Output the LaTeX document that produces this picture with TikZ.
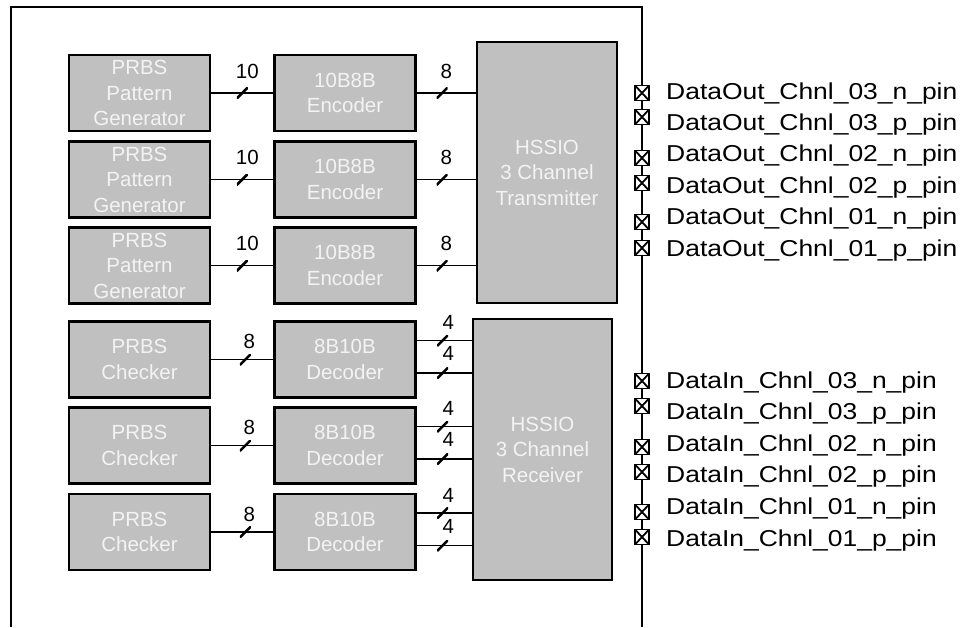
\documentclass[tikz,border=0pt]{standalone}
\usepackage{fontspec}
\setmainfont{Liberation Sans}
\newfontfamily\pinfont[FakeStretch=1.15]{Liberation Sans}
\usetikzlibrary{calc}
\definecolor{blockgray}{RGB}{192,192,192}
\definecolor{blocktext}{RGB}{243,243,243}
\tikzset{
  block/.style={draw, line width=2.6pt, fill=blockgray, text=blocktext, align=center,
    inner sep=0pt, minimum width=141pt, minimum height=76pt,
    font=\fontsize{20.5}{25.5}\selectfont},
  bigblock/.style={block, minimum width=140pt, minimum height=261pt},
  wire/.style={line width=1.2pt},
  busmark/.style={inner sep=0pt, minimum size=11pt,
    path picture={\draw[line width=2.6pt] (path picture bounding box.south west) -- (path picture bounding box.north east);}},
  numlbl/.style={inner sep=0pt, font=\fontsize{20.5}{20.5}\selectfont},
  pinbox/.style={draw, line width=1.8pt, fill=white, inner sep=0pt, minimum width=14pt, minimum height=15pt,
    path picture={\draw[line width=1.8pt] (path picture bounding box.south west) -- (path picture bounding box.north east)
      (path picture bounding box.north west) -- (path picture bounding box.south east);}},
  pintext/.style={anchor=base west, inner sep=0pt, font=\pinfont\fontsize{23}{23}\selectfont}
}
\begin{document}
\begin{tikzpicture}[x=1pt,y=-1pt]
    \useasboundingbox (0,0) rectangle (963,627);
    \draw[line width=2.2pt](11,627)|-(642,7)--(642,627);

    % transmit side
    \node[bigblock] (tx) at (547,172.5) {HSSIO\\3 Channel\\Transmitter};
    \foreach \y [count=\i] in {93,179.5,265.5}{
      \node[block] (gen\i) at (139.5,\y) {PRBS\\Pattern\\Generator};
      \node[block] (enc\i) at (345,\y) {10B8B\\Encoder};
      \draw[wire](gen\i)--node[busmark]{} node[numlbl,midway,xshift=5pt,yshift=22pt]{10}(enc\i);
      \draw[wire](enc\i.east)--node[busmark,pos=.43]{} node[numlbl,midway,yshift=22pt]{8}(enc\i.east-|tx.west);
    }

    % receive side
    \node[bigblock, minimum width=139pt] (rx) at (542.5,449.5) {HSSIO\\3 Channel\\Receiver};
    \foreach \y [count=\i] in {359.5,445.5,532}{
      \node[block] (chk\i) at (139.5,\y) {PRBS\\Checker};
      \node[block] (dec\i) at (345,\y) {8B10B\\Decoder};
      \draw[wire](chk\i)--node[busmark,pos=.55]{} node[numlbl,midway,xshift=7pt,yshift=18pt]{8}(dec\i);
      \coordinate (du\i) at ($(dec\i.east)+(0,-19)$);
      \coordinate (dl\i) at ($(dec\i.east)+(0,13.5)$);
      \draw[wire](du\i)--node[busmark,pos=.47]{} node[numlbl,midway,xshift=4pt,yshift=18pt]{4}(du\i-|rx.west);
      \draw[wire](dl\i)--node[busmark,pos=.47]{} node[numlbl,midway,xshift=4pt,yshift=19.5pt]{4}(dl\i-|rx.west);
    }

    % pins
    \foreach \py/\ch/\pl [count=\k] in {93/03/n,117/03/p,158/02/n,183/02/p,222/01/n,248/01/p}{
      \node[pinbox] (pout\k) at (642,\py) {};
      \node[pintext] (tout\k) at (666,{99+31.4*(\k-1)}) {DataOut\_Chnl\_\ch\_\pl\_pin};
    }
    \foreach \py/\ch/\pl [count=\k] in {381/03/n,406/03/p,447/02/n,472/02/p,512/01/n,537/01/p}{
      \node[pinbox] (pin\k) at (642,\py) {};
      \node[pintext] (tin\k) at (666,{388+31.6*(\k-1)}) {DataIn\_Chnl\_\ch\_\pl\_pin};
    }
\end{tikzpicture}
\end{document}
